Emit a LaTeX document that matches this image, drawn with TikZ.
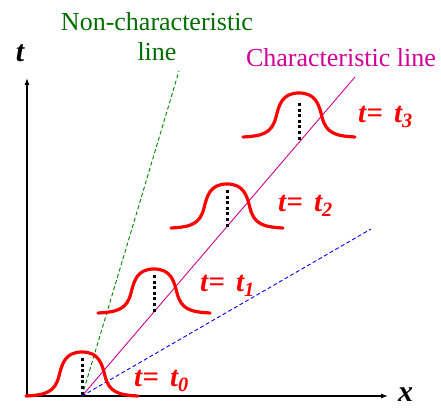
\documentclass[tikz,border=0pt]{standalone}
\usepackage{fontspec}
\setmainfont{Liberation Serif}
\usetikzlibrary{arrows.meta}
\definecolor{charpink}{RGB}{210,0,150}
\definecolor{noncharg}{RGB}{0,110,0}
\begin{document}
\begin{tikzpicture}[x=1pt, y=1pt,
    axis/.style={line width=1.1pt, -{Latex[length=7pt,width=5pt]}},
    pulse/.style={red, line width=3.2pt, line cap=round},
    dotline/.style={black, line width=3pt, dash pattern=on 3pt off 2.6pt},
    tlabel/.style={red, font=\fontsize{29}{32}\selectfont\bfseries\itshape, anchor=base west, inner sep=0pt},
    remark/.style={font=\fontsize{26}{32}\selectfont, inner sep=0pt, align=center}]
    \useasboundingbox (0,0) rectangle (441,409);
    % Axes
    \coordinate (O) at (27,13);
    \coordinate (tend) at (27,331);
    \coordinate (xend) at (388,13);
    \draw[axis] (O) -- (tend);
    \draw[axis] (O) -- (xend);
    \node[font=\fontsize{30}{34}\selectfont\bfseries\itshape, anchor=base, inner sep=0pt] (tlab) at (20,347) {t};
    \node[font=\fontsize{30}{34}\selectfont\bfseries\itshape, anchor=base west, inner sep=0pt] (xlab) at (398,8) {x};
    % Lines through the foot of the first pulse
    \coordinate (C0) at (82,13);
    \coordinate (C1) at (355,332);
    \coordinate (G1) at (179,338);
    \coordinate (B1) at (371,180);
    \draw[charpink, line width=0.9pt] (C0) -- (C1);
    \draw[noncharg!85!green, line width=0.9pt, dash pattern=on 4pt off 2.5pt] (C0) -- (G1);
    \draw[blue, line width=0.9pt, dash pattern=on 4pt off 2.5pt] (C0) -- (B1);
    \node[remark, text=noncharg] (nonchar) at (157,372) {Non-characteristic\\[-2pt]line};
    \node[remark, text=charpink] (charl) at (341,351) {Characteristic line};
    % Pulses
    \coordinate (p0) at (82,13);
    \coordinate (p1) at (154,96);
    \coordinate (p2) at (227,181);
    \coordinate (p3) at (299,272);
    \foreach \p in {p0,p1,p2,p3}
        \draw[pulse, shift={(\p)}] (-56,0) .. controls (-36,1) and (-27,4) .. (-23,20)
            .. controls (-20,32) and (-17,44) .. (0,44)
            .. controls (17,44) and (20,32) .. (23,20)
            .. controls (27,4) and (36,1) .. (56,0);
    % Dotted markers down to the characteristic line
    \coordinate (m0) at (82,51);   \coordinate (d0) at (82,13);
    \coordinate (m1) at (154,134); \coordinate (d1) at (154,97);
    \coordinate (m2) at (227,219); \coordinate (d2) at (227,182);
    \coordinate (m3) at (299,306); \coordinate (d3) at (299,267);
    \draw[dotline] (m0) -- (d0);
    \draw[dotline] (m1) -- (d1);
    \draw[dotline] (m2) -- (d2);
    \draw[dotline] (m3) -- (d3);
    % Time labels
    \node[tlabel] (t0) at (134,22) {t=\hspace{4pt} t\textsubscript{0}};
    \node[tlabel] (t1) at (200,117) {t=\hspace{4pt} t\textsubscript{1}};
    \node[tlabel] (t2) at (278,197) {t=\hspace{4pt} t\textsubscript{2}};
    \node[tlabel] (t3) at (358,286) {t=\hspace{4pt} t\textsubscript{3}};
\end{tikzpicture}
\end{document}
